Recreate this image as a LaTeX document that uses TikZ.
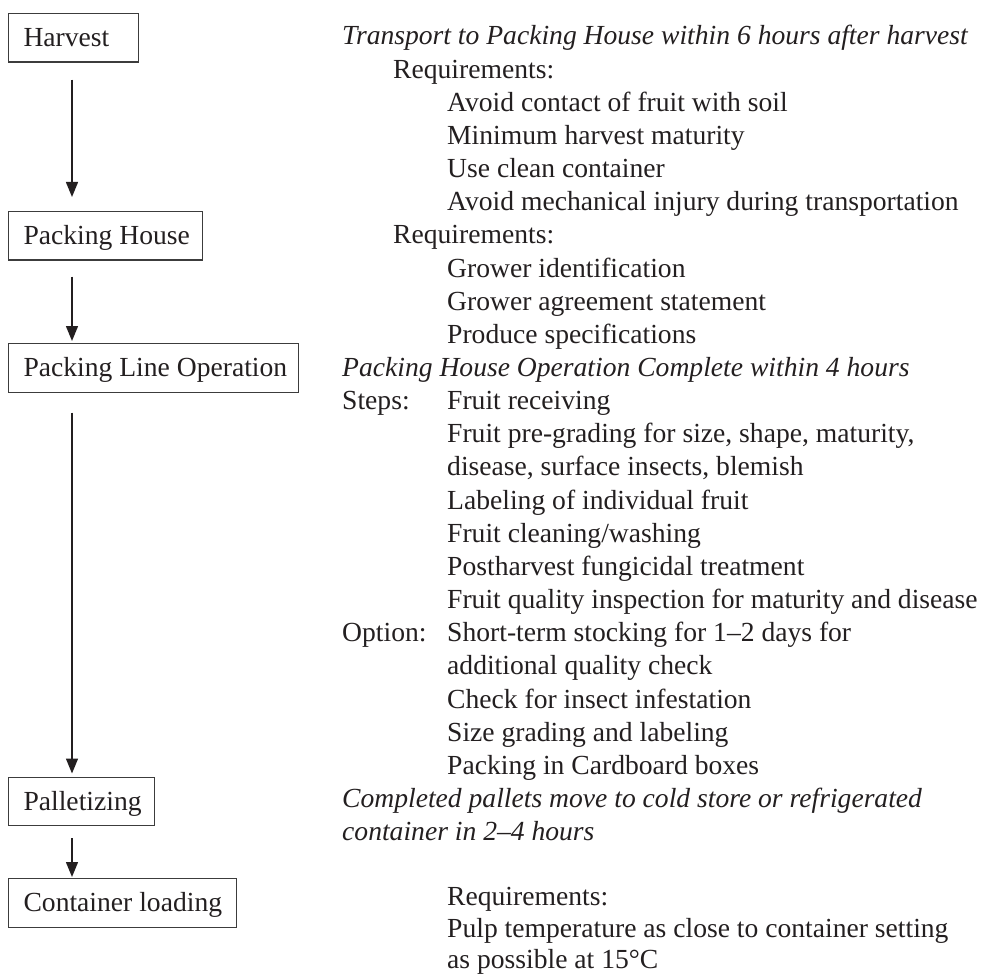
\documentclass[tikz,border=0pt]{standalone}
\usepackage{fontspec}
\setmainfont{Liberation Serif}
\usetikzlibrary{arrows.meta}
\definecolor{ink}{RGB}{35,31,32}
\definecolor{frame}{RGB}{60,60,60}
\newcommand{\boxtext}[2]{\makebox[#1][l]{#2}}
\begin{document}
\begin{tikzpicture}[x=1pt,y=-1pt,
  every node/.style={font=\fontsize{27.6}{33.15}\selectfont, text=ink},
  stagebox/.style={draw=frame, line width=1.1pt, anchor=north west, inner xsep=15pt, inner ysep=0pt,
    minimum height=48.5pt, text height=22pt, text depth=4pt},
  txt/.style={anchor=base west, inner sep=0pt},
  itx/.style={txt, font=\fontsize{27.6}{33.15}\selectfont\itshape},
  flow/.style={draw=ink, line width=1.4pt, -{Triangle[length=15pt,width=12pt]}}]
\useasboundingbox (0,0) rectangle (982,976);

% stage boxes
\node[stagebox] (harvest) at (8,13) {\boxtext{100pt}{Harvest}};
\node[stagebox] (house) at (8,211) {\boxtext{164pt}{Packing House}};
\node[stagebox] (line) at (8,343) {\boxtext{260pt}{Packing Line Operation}};
\node[stagebox] (pallet) at (8,776.5) {\boxtext{116pt}{Palletizing}};
\node[stagebox] (load) at (8,878) {\boxtext{198pt}{Container loading}};

% connectors
\draw[flow, shorten <=17pt, shorten >=14pt] ([xshift=64pt]harvest.south west) -- ([xshift=64pt]house.north west);
\draw[flow, shorten <=16pt, shorten >=2pt] ([xshift=64pt]house.south west) -- ([xshift=64pt]line.north west);
\draw[flow, shorten <=20pt, shorten >=3pt] ([xshift=64pt]line.south west) -- ([xshift=64pt]pallet.north west);
\draw[flow, shorten <=12pt, shorten >=1pt] ([xshift=64pt]pallet.south west) -- ([xshift=64pt]load.north west);

% text column
\node[itx] (t0) at (342,45) {Transport to Packing House within 6 hours after harvest};
\node[txt] (t1) at (393,78.15) {Requirements:};
\node[txt] (t2) at (447,111.3) {Avoid contact of fruit with soil};
\node[txt] (t3) at (447,144.45) {Minimum harvest maturity};
\node[txt] (t4) at (447,177.6) {Use clean container};
\node[txt] (t5) at (447,210.75) {Avoid mechanical injury during transportation};
\node[txt] (t6) at (393,243.9) {Requirements:};
\node[txt] (t7) at (447,277.05) {Grower identification};
\node[txt] (t8) at (447,310.2) {Grower agreement statement};
\node[txt] (t9) at (447,343.35) {Produce specifications};
\node[itx] (t10) at (342,376.5) {Packing House Operation Complete within 4 hours};
\node[txt] (t11a) at (342,409.65) {Steps:};
\node[txt] (t11) at (447,409.65) {Fruit receiving};
\node[txt] (t12) at (447,442.8) {Fruit pre-grading for size, shape, maturity,};
\node[txt] (t13) at (447,475.95) {disease, surface insects, blemish};
\node[txt] (t14) at (447,509.1) {Labeling of individual fruit};
\node[txt] (t15) at (447,542.25) {Fruit cleaning/washing};
\node[txt] (t16) at (447,575.4) {Postharvest fungicidal treatment};
\node[txt] (t17) at (447,608.55) {Fruit quality inspection for maturity and disease};
\node[txt] (t18a) at (342,641.7) {Option:};
\node[txt] (t18) at (447,641.7) {Short-term stocking for 1–2 days for};
\node[txt] (t19) at (447,674.85) {additional quality check};
\node[txt] (t20) at (447,708) {Check for insect infestation};
\node[txt] (t21) at (447,741.15) {Size grading and labeling};
\node[txt] (t22) at (447,774.3) {Packing in Cardboard boxes};
\node[itx] (t23) at (342,807.45) {Completed pallets move to cold store or refrigerated};
\node[itx] (t24) at (342,840.6) {container in 2–4 hours};
\node[txt] (t26) at (447,905) {Requirements:};
\node[txt] (t27) at (447,937) {Pulp temperature as close to container setting};
\node[txt] (t28) at (447,968.5) {as possible at 15°C};
\end{tikzpicture}
\end{document}
